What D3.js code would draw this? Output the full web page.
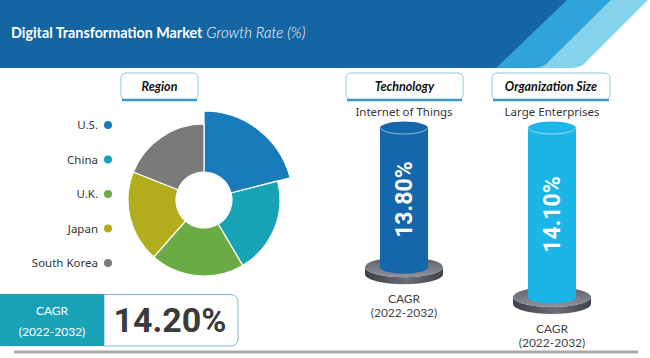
<!DOCTYPE html>
<html><head><meta charset="utf-8">
<script src="https://cdn.jsdelivr.net/npm/d3@7"></script>
<style>html,body{margin:0;padding:0;background:#fff;}svg{display:block;}</style>
</head><body>
<svg id="chart" width="650" height="358"></svg>
<script>
// ---- data ----
const titleBold = "Digital Transformation Market";
const titleRest = "Growth Rate (%)";
const regions = ["U.S.", "China", "U.K.", "Japan", "South Korea"];
const regionShares = [21, 20.5, 20, 19.5, 19];
const regionColors = ["#1a7bbb", "#17a3b6", "#6aab46", "#b2ad1c", "#7b7a7b"];
const highlightRegion = "U.S.";
const overallCagr = 14.20;
const periodLabel = "(2022-2032)";
const segmentTitles = ["Technology", "Organization Size"];
const segmentLeaders = ["Internet of Things", "Large Enterprises"];
const segmentCagr = [13.80, 14.10];
const segmentColors = ["#1567ab", "#1bb5e8"];

const svg = d3.select("#chart");
const defs = svg.append("defs");

// ---- header ----
const hdrH = 68;
svg.append("path").attr("fill", "#86d3ee")
  .attr("d", `M0,0 H648 L588,${hdrH-8} Q582,${hdrH} 572,${hdrH} H0 Z`);
svg.append("path").attr("fill", "#2ea4da")
  .attr("d", `M0,0 H611 L550,${hdrH-8} Q544,${hdrH} 534,${hdrH} H0 Z`);
svg.append("path").attr("fill", "#1565a2")
  .attr("d", `M0,0 H567 L496,${hdrH} H0 Z`);
const title = svg.append("text").attr("x", 11).attr("y", 38)
  .attr("font-family", "Lato, 'Noto Sans', sans-serif").attr("fill", "#fff");
title.append("tspan").attr("font-size", 14.3).attr("font-weight", 700).text(titleBold);
title.append("tspan").attr("dx", 4).attr("font-size", 15).attr("font-style", "italic")
  .attr("font-weight", 300).text(titleRest);

// ---- section tabs ----
function tab(x, w, label) {
  const g = svg.append("g");
  g.append("rect").attr("x", x).attr("y", 73).attr("width", w).attr("height", 27).attr("rx", 5)
    .attr("fill", "#fff").attr("stroke", "#8fc4dd").attr("stroke-width", 1);
  g.append("line").attr("x1", x + 1).attr("x2", x + w - 1).attr("y1", 100).attr("y2", 100)
    .attr("stroke", "#3a96cc").attr("stroke-width", 2.5);
  g.append("text").attr("x", x + w / 2).attr("y", 91).attr("text-anchor", "middle")
    .attr("font-family", "Lato, 'Noto Sans', sans-serif").attr("font-size", 12.5)
    .attr("font-weight", 700).attr("font-style", "italic").attr("fill", "#111").text(label);
}
tab(121, 77, "Region");
tab(346, 117, segmentTitles[0]);
tab(492, 118, segmentTitles[1]);

// ---- donut ----
const cx = 204, cy = 200;
const pie = d3.pie().sort(null).value(d => d.v);
const pieData = pie(regions.map((r, i) => ({ r, v: regionShares[i], c: regionColors[i] })));
const arc = d3.arc().innerRadius(28)
  .outerRadius(d => d.data.r === highlightRegion ? 89 : 76);
svg.append("g").attr("transform", `translate(${cx},${cy})`)
  .selectAll("path").data(pieData).join("path")
  .attr("d", arc).attr("fill", d => d.data.c)
  .attr("stroke", "#fff").attr("stroke-width", 1.2);

// legend
const ly = d3.scalePoint().domain(regions).range([125, 263]);
const leg = svg.append("g").selectAll("g").data(regions).join("g")
  .attr("transform", d => `translate(0,${ly(d)})`);
leg.append("circle").attr("cx", 108).attr("cy", 0).attr("r", 4)
  .attr("fill", (d, i) => regionColors[i]);
leg.append("text").attr("x", 98).attr("y", 4).attr("text-anchor", "end")
  .attr("font-family", "'Noto Sans', sans-serif").attr("font-size", 11.5).attr("fill", "#333")
  .text(d => d);

// ---- bottom-left CAGR box ----
svg.append("path").attr("fill", "#fff").attr("stroke", "#7fbccb").attr("stroke-width", 1)
  .attr("d", "M104,294.5 H230 Q238,294.5 238,302.5 V338 Q238,346 230,346 H104 Z");
svg.append("rect").attr("x", 0).attr("y", 294).attr("width", 104).attr("height", 52).attr("fill", "#19a2b5");
svg.append("text").attr("x", 52).attr("y", 315).attr("text-anchor", "middle")
  .attr("font-family", "Lato, sans-serif").attr("font-size", 12).attr("fill", "#fff").text("CAGR");
svg.append("text").attr("x", 52).attr("y", 336).attr("text-anchor", "middle")
  .attr("font-family", "Lato, sans-serif").attr("font-size", 12).attr("fill", "#fff").text(periodLabel);
svg.append("text").attr("x", 170).attr("y", 332).attr("text-anchor", "middle")
  .attr("font-family", "Roboto, sans-serif").attr("font-size", 34).attr("font-weight", 700)
  .attr("fill", "#3b3b3b").text(d3.format(".2f")(overallCagr) + "%");

// ---- cylinders ----
const topY = 128;
const hScale = d3.scaleLinear().domain([12.4, 14.1]).range([0, 169]);
const xPos = d3.scalePoint().domain(segmentLeaders).range([404, 552]);
const rx = 24, ry = 6.5;
const baseRx = 39, baseRy = 10, baseT = 7;

const sideGrad = defs.append("linearGradient").attr("id", "baseSide");
sideGrad.append("stop").attr("offset", "0%").attr("stop-color", "#3e414a");
sideGrad.append("stop").attr("offset", "55%").attr("stop-color", "#6b6e78");
sideGrad.append("stop").attr("offset", "100%").attr("stop-color", "#3e414a");
const topGrad = defs.append("linearGradient").attr("id", "baseTop").attr("x1", 0).attr("y1", 0).attr("x2", 0).attr("y2", 1);
topGrad.append("stop").attr("offset", "0%").attr("stop-color", "#5d606a");
topGrad.append("stop").attr("offset", "100%").attr("stop-color", "#8e919a");

segmentLeaders.forEach((name, i) => {
  const x = xPos(name);
  const baseY = topY + hScale(segmentCagr[i]);
  const g = svg.append("g");
  g.append("path").attr("fill", "url(#baseSide)")
    .attr("d", `M${x - baseRx},${baseY} A${baseRx},${baseRy} 0 0 0 ${x + baseRx},${baseY} V${baseY + baseT} A${baseRx},${baseRy} 0 0 1 ${x - baseRx},${baseY + baseT} Z`);
  g.append("ellipse").attr("cx", x).attr("cy", baseY).attr("rx", baseRx).attr("ry", baseRy)
    .attr("fill", "url(#baseTop)");
  g.append("path").attr("fill", segmentColors[i])
    .attr("d", `M${x - rx},${topY} V${baseY} A${rx},${ry} 0 0 0 ${x + rx},${baseY} V${topY} Z`);
  g.append("ellipse").attr("cx", x).attr("cy", topY).attr("rx", rx).attr("ry", ry)
    .attr("fill", segmentColors[i]);
  g.append("path").attr("fill", "none").attr("stroke", "rgba(255,255,255,0.55)").attr("stroke-width", 1)
    .attr("d", `M${x - rx + 1},${topY} A${rx - 1},${ry - 0.5} 0 0 0 ${x + rx - 1},${topY}`);
  const midY = (topY + baseY) / 2 + 2;
  g.append("text").attr("transform", `translate(${x + 8},${midY}) rotate(-90)`)
    .attr("text-anchor", "middle").attr("font-family", "Roboto, sans-serif")
    .attr("font-size", 23).attr("font-weight", 700).attr("fill", "#fff")
    .text(d3.format(".2f")(segmentCagr[i]) + "%");
  g.append("text").attr("x", x).attr("y", 116).attr("text-anchor", "middle")
    .attr("font-family", "'Noto Sans', sans-serif").attr("font-size", 11.5).attr("fill", "#333").text(name);
  g.append("text").attr("x", x).attr("y", baseY + 36).attr("text-anchor", "middle")
    .attr("font-family", "Lato, sans-serif").attr("font-size", 12).attr("fill", "#444").text("CAGR");
  g.append("text").attr("x", x).attr("y", baseY + 50).attr("text-anchor", "middle")
    .attr("font-family", "Lato, sans-serif").attr("font-size", 12).attr("fill", "#444").text(periodLabel);
});

// bottom rule
svg.append("line").attr("x1", 14).attr("x2", 638).attr("y1", 352).attr("y2", 352)
  .attr("stroke", "#a9a9a9").attr("stroke-width", 3);
</script>
</body></html>
